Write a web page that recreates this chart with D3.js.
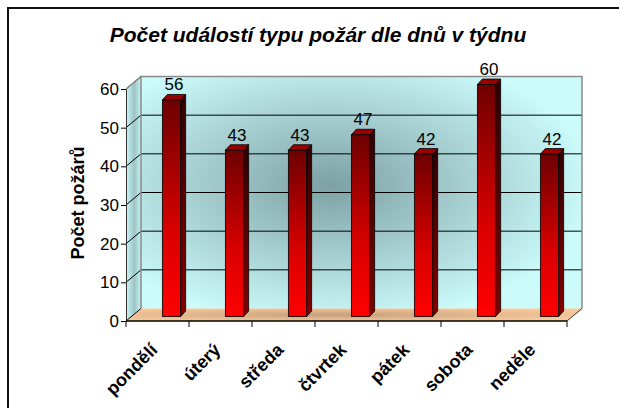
<!DOCTYPE html>
<html>
<head>
<meta charset="utf-8">
<script src="https://cdn.jsdelivr.net/npm/d3@7"></script>
<style>
  html, body { margin: 0; padding: 0; background: #fff; }
  svg { display: block; font-family: "Liberation Sans", Arial, sans-serif; }
</style>
</head>
<body>
<svg id="chart" width="619" height="408"></svg>
<script>
const days = ["pondělí", "úterý", "středa", "čtvrtek", "pátek", "sobota", "neděle"];
const fires = [56, 43, 43, 47, 42, 60, 42];
const yTicks = [0, 10, 20, 30, 40, 50, 60];
const title = "Počet událostí typu požár dle dnů v týdnu";
const yTitle = "Počet požárů";

const svg = d3.select("#chart");
const defs = svg.append("defs");

// frame round the whole chart area (cut off on the right and bottom)
svg.append("rect")
    .attr("x", 8).attr("y", 8)
    .attr("width", 700).attr("height", 500)
    .attr("fill", "none")
    .attr("stroke", "#111")
    .attr("stroke-width", 2);

const x = d3.scaleBand().domain(days).range([126, 567]);
const y = d3.scaleLinear().domain([0, 60]).range([321, 89]);

// depth of the 3D box and of one bar
const depth = {dx: 15, dy: -12.5};
const barDepth = {dx: 5, dy: -5.5};
const barShift = {dx: 14, dy: -4.5};
const barW = x.bandwidth() * 0.29;

const [x0, x1] = x.range();
const [yb, yt] = y.range();

// gradients
const wallGrad = defs.append("radialGradient").attr("id", "wall")
    .attr("cx", 0.43).attr("cy", 0.47).attr("r", 0.6);
wallGrad.append("stop").attr("offset", 0).attr("stop-color", "#7da1a4");
wallGrad.append("stop").attr("offset", 0.55).attr("stop-color", "#a9d2d4");
wallGrad.append("stop").attr("offset", 1).attr("stop-color", "#cbfbfb");

const sideGrad = defs.append("linearGradient").attr("id", "side");
sideGrad.append("stop").attr("offset", 0).attr("stop-color", "#c9f8f8");
sideGrad.append("stop").attr("offset", 0.55).attr("stop-color", "#9ec4c6");
sideGrad.append("stop").attr("offset", 1).attr("stop-color", "#c4f2f2");

const floorGrad = defs.append("radialGradient").attr("id", "floor")
    .attr("cx", 0.45).attr("cy", 0.5).attr("r", 0.6);
floorGrad.append("stop").attr("offset", 0).attr("stop-color", "#c4a07e");
floorGrad.append("stop").attr("offset", 0.6).attr("stop-color", "#e6ba90");
floorGrad.append("stop").attr("offset", 1).attr("stop-color", "#f7c99c");

const frontGrad = defs.append("linearGradient").attr("id", "barFront")
    .attr("x1", 0).attr("y1", 0).attr("x2", 0).attr("y2", 1);
frontGrad.append("stop").attr("offset", 0).attr("stop-color", "#6e0000");
frontGrad.append("stop").attr("offset", 0.6).attr("stop-color", "#d80000");
frontGrad.append("stop").attr("offset", 1).attr("stop-color", "#ff0000");

const sideBarGrad = defs.append("linearGradient").attr("id", "barSide")
    .attr("x1", 0).attr("y1", 0).attr("x2", 0).attr("y2", 1);
sideBarGrad.append("stop").attr("offset", 0).attr("stop-color", "#300000");
sideBarGrad.append("stop").attr("offset", 1).attr("stop-color", "#840000");

// walls
svg.append("rect")
    .attr("x", x0 + depth.dx).attr("y", yt + depth.dy)
    .attr("width", x1 - x0).attr("height", yb - yt)
    .attr("fill", "url(#wall)");

svg.append("polygon")
    .attr("points", [[x0, yt], [x0 + depth.dx, yt + depth.dy], [x0 + depth.dx, yb + depth.dy], [x0, yb]].join(" "))
    .attr("fill", "url(#side)");

// floor
svg.append("polygon")
    .attr("points", [[x0, yb], [x1, yb], [x1 + depth.dx, yb + depth.dy], [x0 + depth.dx, yb + depth.dy]].join(" "))
    .attr("fill", "url(#floor)");

// gridlines on the back wall and the side wall
svg.append("g").selectAll("line.grid")
    .data(yTicks.filter(t => t > 0 && t < 60))
    .join("line")
    .attr("x1", x0 + depth.dx).attr("x2", x1 + depth.dx)
    .attr("y1", d => y(d) + depth.dy).attr("y2", d => y(d) + depth.dy)
    .attr("stroke", "#000").attr("stroke-width", 1);

svg.append("g").selectAll("line")
    .data(yTicks)
    .join("line")
    .attr("x1", x0).attr("x2", x0 + depth.dx)
    .attr("y1", d => y(d)).attr("y2", d => y(d) + depth.dy)
    .attr("stroke", "#000").attr("stroke-width", 1);

// wall outlines
svg.append("path")
    .attr("d", `M${x0 + depth.dx},${yb + depth.dy}V${yt + depth.dy}H${x1 + depth.dx}V${yb + depth.dy}`)
    .attr("fill", "none").attr("stroke", "#8a8a8a").attr("stroke-width", 1.5);
svg.append("line")
    .attr("x1", x0).attr("y1", yt).attr("x2", x0 + depth.dx).attr("y2", yt + depth.dy)
    .attr("stroke", "#8a8a8a").attr("stroke-width", 1.5);
svg.append("line")
    .attr("x1", x1).attr("y1", yb).attr("x2", x1 + depth.dx).attr("y2", yb + depth.dy)
    .attr("stroke", "#333").attr("stroke-width", 1);

// bars
const bars = svg.append("g").selectAll("g")
    .data(days.map((d, i) => ({day: d, value: fires[i]})))
    .join("g");

const barLeft = d => x(d.day) + (x.bandwidth() - barW) / 2 + barShift.dx;
const barTop = d => y(d.value) + barShift.dy;
const barBottom = y(0) + barShift.dy;

bars.append("polygon")
    .attr("points", d => [[barLeft(d) + barW, barTop(d)], [barLeft(d) + barW + barDepth.dx, barTop(d) + barDepth.dy],
        [barLeft(d) + barW + barDepth.dx, barBottom + barDepth.dy], [barLeft(d) + barW, barBottom]].join(" "))
    .attr("fill", "url(#barSide)").attr("stroke", "#000").attr("stroke-width", 0.8);

bars.append("polygon")
    .attr("points", d => [[barLeft(d), barTop(d)], [barLeft(d) + barDepth.dx, barTop(d) + barDepth.dy],
        [barLeft(d) + barW + barDepth.dx, barTop(d) + barDepth.dy], [barLeft(d) + barW, barTop(d)]].join(" "))
    .attr("fill", "#9a0000").attr("stroke", "#000").attr("stroke-width", 0.8);

bars.append("rect")
    .attr("x", barLeft).attr("y", barTop)
    .attr("width", barW).attr("height", d => barBottom - barTop(d))
    .attr("fill", "url(#barFront)").attr("stroke", "#000").attr("stroke-width", 0.8);

bars.append("text")
    .attr("x", d => barLeft(d) + (barW + barDepth.dx) / 2)
    .attr("y", d => barTop(d) + barDepth.dy - 4)
    .attr("text-anchor", "middle")
    .style("font-size", "17px")
    .text(d => d.value);

// y axis
svg.append("g")
    .attr("transform", `translate(${x0},0)`)
    .call(d3.axisLeft(y).tickValues(yTicks).tickSize(5).tickPadding(2))
    .call(g => g.select(".domain").attr("stroke", "#333"))
    .call(g => g.selectAll(".tick line").attr("stroke", "#000"))
    .call(g => g.selectAll(".tick text")
        .attr("fill", "#000")
        .style("font-size", "17px")
        .style("font-family", "'Liberation Sans', Arial, sans-serif"));

// x axis: line, boundary ticks and rotated labels
svg.append("line")
    .attr("x1", x0).attr("x2", x1).attr("y1", yb).attr("y2", yb)
    .attr("stroke", "#000").attr("stroke-width", 1.5);

svg.append("g").selectAll("line")
    .data(days.map(d => x(d)).concat([x1]))
    .join("line")
    .attr("x1", d => d).attr("x2", d => d)
    .attr("y1", yb).attr("y2", yb + 6)
    .attr("stroke", "#000");

svg.append("g").selectAll("text")
    .data(days)
    .join("text")
    .attr("transform", d => `translate(${x(d) + x.bandwidth() / 2 + 1},${yb + 30}) rotate(-45)`)
    .attr("text-anchor", "end")
    .style("font-size", "18px")
    .style("font-weight", "bold")
    .text(d => d);

// titles
svg.append("text")
    .attr("x", 318).attr("y", 42)
    .attr("text-anchor", "middle")
    .style("font-size", "21px")
    .style("font-weight", "bold")
    .style("font-style", "italic")
    .text(title);

svg.append("text")
    .attr("transform", `translate(84,${(yt + yb) / 2 - 2}) rotate(-90)`)
    .attr("text-anchor", "middle")
    .style("font-size", "18px")
    .style("font-weight", "bold")
    .text(yTitle);
</script>
</body>
</html>
